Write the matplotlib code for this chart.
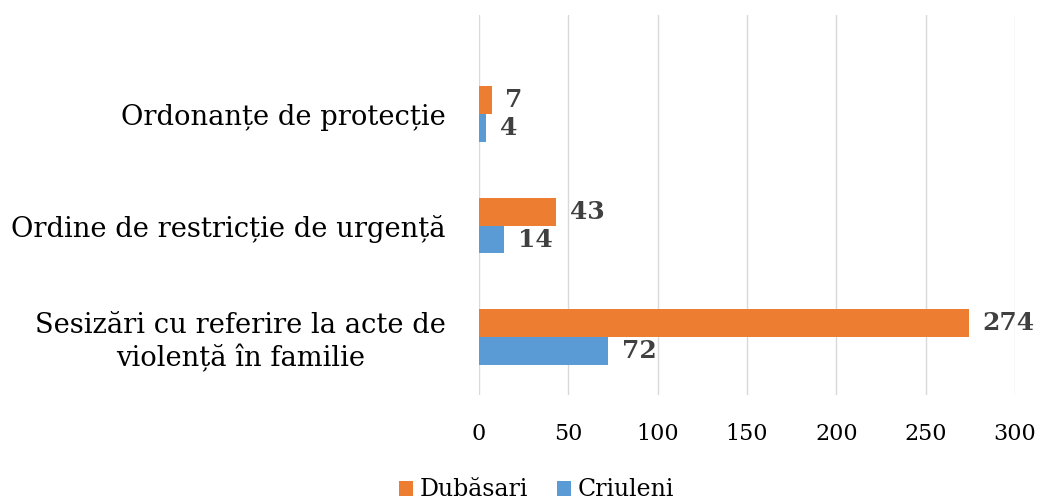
import matplotlib.pyplot as plt
import numpy as np

# Data
categories = ["Sesizări cu referire la acte de\nviolență în familie",
              "Ordine de restricție de urgență",
              "Ordonanțe de protecție"]
dubasari = [274, 43, 7]
criuleni = [72, 14, 4]
series_names = ["Dubăsari", "Criuleni"]

orange = "#ED7D31"
blue = "#5B9BD5"

plt.rcParams['font.family'] = ['DejaVu Serif']

fig = plt.figure(figsize=(10.4, 5), dpi=100)
ax = fig.add_axes([0.4606, 0.21, 0.5154, 0.76])

y = np.arange(len(categories))
h = 0.25
b1 = ax.barh(y + h / 2, dubasari, height=h, color=orange, label=series_names[0], zorder=3)
b2 = ax.barh(y - h / 2, criuleni, height=h, color=blue, label=series_names[1], zorder=3)

# value labels
for bars in (b1, b2):
    ax.bar_label(bars, padding=10, fontsize=18, fontweight='bold', color='#404040')

ax.set_xlim(0, 300)
ax.set_ylim(-0.52, 2.89)
ax.set_xticks(np.arange(0, 301, 50))
ax.set_yticks(y)
ax.set_yticklabels(categories, fontsize=19.7)
for lbl in ax.get_yticklabels():
    lbl.set_multialignment('center')
    lbl.set_linespacing(1.2)

ax.tick_params(axis='y', length=0, pad=24)
ax.tick_params(axis='x', length=0, pad=20, labelsize=16)
ax.grid(axis='x', color='#D9D9D9', linewidth=1, zorder=0)
for s in ax.spines.values():
    s.set_visible(False)

fig.legend(handles=[b1, b2], loc='center', bbox_to_anchor=(0.516, 0.02), ncol=2,
           frameon=False, fontsize=17, handlelength=0.6, handleheight=0.6,
           handletextpad=0.3, columnspacing=1.2)

fig.savefig("out.png", dpi=100)
